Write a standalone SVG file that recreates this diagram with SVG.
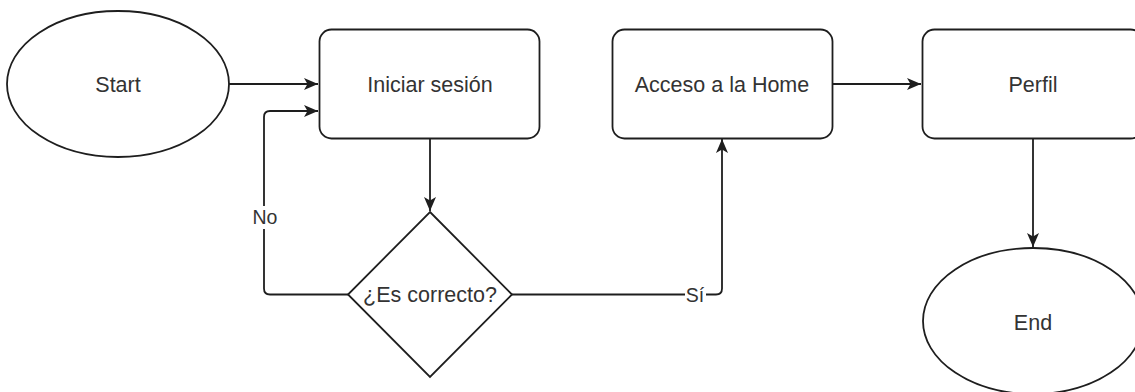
<svg xmlns="http://www.w3.org/2000/svg" width="1135" height="392" viewBox="0 0 1135 392">
<style>
.shape{fill:#ffffff;stroke:#1e1e1e;stroke-width:1.8}
.edge{fill:none;stroke:#1e1e1e;stroke-width:1.8}
.txt{font-family:"Liberation Sans",Arial,sans-serif;font-size:21.5px;fill:#333333;text-anchor:middle}
.lbl{font-family:"Liberation Sans",Arial,sans-serif;font-size:19.5px;fill:#333333;text-anchor:middle}
.lblbg{fill:#ffffff;stroke:none}
</style>
<defs>
<marker id="arrow" markerUnits="userSpaceOnUse" markerWidth="16" markerHeight="14" refX="14" refY="6" orient="auto">
<path d="M0,0 L14,6 L0,12 L3.5,6 Z" fill="#1e1e1e"/>
</marker>
</defs>
<rect width="1135" height="392" fill="#ffffff"/>
<g id="connectors">
<path class="edge" d="M229,84 H318" marker-end="url(#arrow)"/>
<path class="edge" d="M348,294.5 H270 Q264,294.5 264,288.5 V117 Q264,111 270,111 H318" marker-end="url(#arrow)"/>
<path class="edge" d="M430,138 V211" marker-end="url(#arrow)"/>
<path class="edge" d="M512,294.5 H716 Q722,294.5 722,288.5 V139" marker-end="url(#arrow)"/>
<path class="edge" d="M832,84 H921" marker-end="url(#arrow)"/>
<path class="edge" d="M1033,138 V247" marker-end="url(#arrow)"/>
<rect class="lblbg" x="252" y="206" width="26" height="23"/>
<text class="lbl" x="265" y="224">No</text>
<rect class="lblbg" x="685" y="284" width="21" height="21"/>
<text class="lbl" x="695" y="302">Sí</text>
</g>
<g id="start">
<ellipse class="shape" cx="118" cy="84" rx="111" ry="73"/>
<text class="txt" x="118" y="91.5">Start</text>
</g>
<g id="iniciar-sesion">
<rect class="shape" x="319.5" y="29.5" width="220" height="109" rx="12" ry="12"/>
<text class="txt" x="430" y="91.5">Iniciar sesión</text>
</g>
<g id="es-correcto">
<polygon class="shape" points="430,212 512,294.5 430,377 348,294.5"/>
<text class="txt" x="430" y="302">¿Es correcto?</text>
</g>
<g id="acceso-home">
<rect class="shape" x="612.5" y="29.5" width="220" height="109" rx="12" ry="12"/>
<text class="txt" x="722" y="91.5">Acceso a la Home</text>
</g>
<g id="perfil">
<rect class="shape" x="922.5" y="29.5" width="220" height="109" rx="12" ry="12"/>
<text class="txt" x="1033" y="91.5">Perfil</text>
</g>
<g id="end">
<ellipse class="shape" cx="1033" cy="321" rx="110" ry="73"/>
<text class="txt" x="1033" y="330">End</text>
</g>
</svg>
